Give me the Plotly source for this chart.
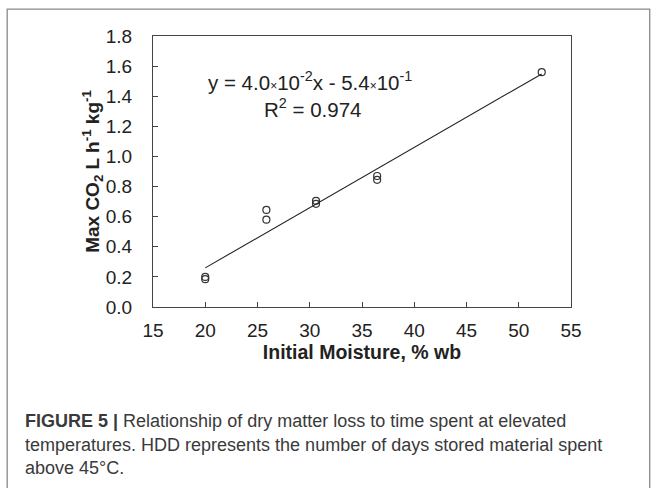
import plotly.graph_objects as go

# ---- data ----
moisture = [20.0, 20.0, 25.85, 25.85, 30.6, 30.6, 36.45, 36.45, 52.2]
max_co2 = [0.185, 0.20, 0.645, 0.58, 0.705, 0.685, 0.87, 0.845, 1.56]
slope = 0.040
intercept = -0.54
x_ticks = [15, 20, 25, 30, 35, 40, 45, 50, 55]
y_ticks = [0.0, 0.2, 0.4, 0.6, 0.8, 1.0, 1.2, 1.4, 1.6, 1.8]

W, H = 657, 488
L, R, T, B = 153.3, 571.3, 35.5, 307.3
pw, ph = R - L, B - T

def px(x):
    return (x - L) / pw

def py(y):
    return (B - y) / ph

FONT = "Liberation Sans, Arial, sans-serif"
AX = "#222222"

fig = go.Figure()
fig.add_trace(go.Scatter(
    x=moisture, y=max_co2, mode="markers",
    marker=dict(symbol="circle-open", size=7, color="#333333", line=dict(width=1.2)),
    showlegend=False, hoverinfo="skip"))

x_line = [min(moisture), max(moisture)]
y_line = [slope * v + intercept for v in x_line]
fig.add_trace(go.Scatter(
    x=x_line, y=y_line, mode="lines",
    line=dict(color="#222222", width=1.1),
    showlegend=False, hoverinfo="skip"))

axis_common = dict(
    showline=True, linecolor="#444444", linewidth=1.2, mirror=True,
    ticks="inside", ticklen=5, tickwidth=1, tickcolor="#444444",
    showgrid=False, zeroline=False,
    tickfont=dict(family=FONT, size=19, color=AX),
)

fig.update_xaxes(range=[15, 55], tickvals=x_ticks, ticktext=[str(v) for v in x_ticks],
                 ticklabelstandoff=6,
                 title=dict(text="<b>Initial Moisture, % wb</b>",
                            font=dict(family=FONT, size=19.5, color=AX), standoff=4),
                 **axis_common)
fig.update_yaxes(range=[0, 1.8], tickvals=y_ticks, ticktext=[f"{v:.1f}" for v in y_ticks],
                 ticklabelstandoff=16,
                 title=dict(text="<b>Max CO<sub>2</sub> L h<sup>-1</sup> kg<sup>-1</sup></b>",
                            font=dict(family=FONT, size=19, color=AX), standoff=0),
                 **axis_common)

small_x = "<span style='font-size:12px'>×</span>"
annotations = [
    dict(x=px(310), y=py(81), xref="paper", yref="paper",
         text=f"y = 4.0{small_x}10<sup>-2</sup>x - 5.4{small_x}10<sup>-1</sup>",
         showarrow=False, font=dict(family=FONT, size=20.5, color=AX),
         xanchor="center", yanchor="middle"),
    dict(x=px(313), y=py(108), xref="paper", yref="paper",
         text="R<sup>2</sup> = 0.974",
         showarrow=False, font=dict(family=FONT, size=20.5, color=AX),
         xanchor="center", yanchor="middle"),
]

caption_lines = [
    "<b>FIGURE 5 |</b> Relationship of dry matter loss to time spent at elevated",
    "temperatures. HDD represents the number of days stored material spent",
    "above 45°C.",
]
cap_y = [422, 446, 469]
for line, yy in zip(caption_lines, cap_y):
    annotations.append(dict(
        x=px(23), y=py(yy), xref="paper", yref="paper", text=line,
        showarrow=False, xanchor="left", yanchor="middle",
        font=dict(family=FONT, size=18, color="#3a3a3a")))

fig.update_layout(
    width=W, height=H,
    margin=dict(l=L, r=W - R, t=T, b=H - B, pad=0),
    paper_bgcolor="white", plot_bgcolor="white",
    annotations=annotations,
    shapes=[dict(type="rect", xref="paper", yref="paper",
                 x0=px(7.5), x1=px(650), y0=py(500), y1=py(8.5),
                 line=dict(color="#8a8a8a", width=1.3), fillcolor="rgba(0,0,0,0)",
                 layer="below")],
)

fig.write_html("out.html", config={"displayModeBar": False},
               post_script="document.body.style.margin='0';document.body.style.overflow='hidden';")
